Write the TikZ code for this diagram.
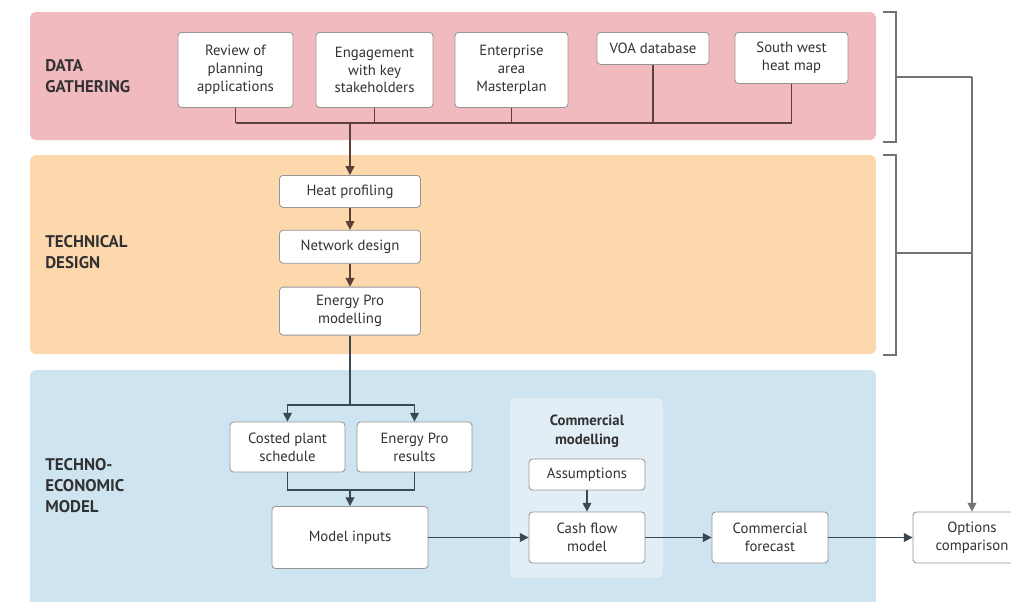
\documentclass[tikz,border=0pt]{standalone}
\usepackage{fontspec}
\setmainfont{PT Sans}
\usetikzlibrary{arrows.meta,positioning}

\definecolor{gatherpink}{RGB}{240,186,190}
\definecolor{designtan}{RGB}{252,216,172}
\definecolor{modelblue}{RGB}{206,228,240}
\definecolor{panelblue}{RGB}{226,238,246}
\definecolor{linebrown}{RGB}{92,64,56}
\definecolor{lineslate}{RGB}{58,72,84}
\definecolor{boxedge}{RGB}{150,150,150}
\definecolor{inktext}{RGB}{50,50,50}

\begin{document}
\begin{tikzpicture}[
    x=0.025cm, y=-0.025cm,
    band/.style={rounded corners=4pt},
    stepbox/.style={rectangle, draw=boxedge, fill=white, rounded corners=2.5pt, line width=0.6pt, align=center, text=inktext, inner sep=1pt, font=\fontsize{10.5}{12.6}\selectfont},
    stagelabel/.style={anchor=north west, align=left, inner sep=0pt, text=inktext, font=\bfseries\fontsize{12}{15}\selectfont},
    link/.style={line width=1pt},
    arrow/.style={-{Triangle[length=2.2mm, width=2.2mm]}, line width=1pt},
    bracket/.style={draw=black!55, line width=0.8pt}
]
\useasboundingbox (0,0) rectangle (1011,601);
\clip (0,0) rectangle (1011,601);

% stage bands
\fill[gatherpink, band] (30,12) rectangle (876,140);
\fill[designtan, band] (30,155) rectangle (876,354);
\fill[modelblue, band] (30,370) rectangle (876,640);
\fill[panelblue, band] (510,398) rectangle (663,578);

\node[stagelabel] (gatherlbl) at (45,59) {DATA\\GATHERING};
\node[stagelabel] (designlbl) at (45,235) {TECHNICAL\\DESIGN};
\node[stagelabel] (modellbl) at (45,458) {TECHNO-\\ECONOMIC\\MODEL};

% data gathering
\node[stepbox, anchor=north, minimum width=2.875cm, minimum height=1.875cm] (review) at (235.5,32) {Review of\\planning\\applications};
\node[stepbox, anchor=north, minimum width=2.925cm, minimum height=1.875cm] (engage) at (374.5,32) {Engagement\\with key\\stakeholders};
\node[stepbox, anchor=north, minimum width=2.825cm, minimum height=1.875cm] (enterprise) at (511.5,32) {Enterprise\\area\\Masterplan};
\node[stepbox, anchor=north, minimum width=2.8cm, minimum height=0.8cm] (voa) at (653,32) {VOA database};
\node[stepbox, anchor=north, minimum width=2.825cm, minimum height=1.275cm] (heatmap) at (791.5,32) {South west\\heat map};

\coordinate (bus) at (350,123);
\foreach \src in {review,engage,enterprise,voa,heatmap}
  \draw[link, linebrown] (\src.south) -- (\src.south |- bus);
\draw[link, linebrown] (review.south |- bus) -- (heatmap.south |- bus);

% technical design
\node[stepbox, anchor=north, minimum width=3.525cm, minimum height=0.8cm] (heat) at (350,175) {Heat profiling};
\node[stepbox, below=0.55cm of heat, minimum width=3.525cm, minimum height=0.825cm] (network) {Network design};
\node[stepbox, below=0.575cm of network, minimum width=3.525cm, minimum height=1.2cm] (energy) {Energy Pro\\modelling};

\draw[arrow, linebrown] (bus) -- (heat);
\draw[arrow, linebrown] (heat) -- (network);
\draw[arrow, linebrown] (network) -- (energy);

% techno-economic model
\node[stepbox, minimum width=2.875cm, minimum height=1.25cm] (costed) at (287.5,447) {Costed plant\\schedule};
\node[stepbox, minimum width=2.875cm, minimum height=1.25cm] (results) at (414.5,447) {Energy Pro\\results};
\node[stepbox, minimum width=3.9cm, minimum height=1.55cm] (inputs) at (350,537.5) {Model inputs};

\node[inner sep=0pt, align=center, text=inktext, font=\bfseries\fontsize{10.5}{13.5}\selectfont] (commtitle) at (587,431) {Commercial\\modelling};
\node[stepbox, minimum width=2.9cm, minimum height=0.775cm] (assume) at (587,474.5) {Assumptions};
\node[stepbox, minimum width=2.9cm, minimum height=1.275cm] (cashflow) at (587,537.5) {Cash flow\\model};
\node[stepbox, minimum width=2.9cm, minimum height=1.275cm] (forecast) at (770,537.5) {Commercial\\forecast};
\node[stepbox, minimum width=2.95cm, minimum height=1.275cm] (options) at (972,537.5) {Options\\comparison};

\coordinate (split) at (350,405);
\coordinate (join) at (350,490);
\draw[link, lineslate] (energy) -- (split);
\draw[arrow, lineslate] (split) -| (costed);
\draw[arrow, lineslate] (split) -| (results);
\draw[link, lineslate] (costed) |- (join) -| (results);
\draw[arrow, lineslate] (join) -- (inputs);
\draw[arrow, lineslate] (inputs) -- (cashflow);
\draw[arrow, lineslate] (assume) -- (cashflow);
\draw[arrow, lineslate] (cashflow) -- (forecast);
\draw[arrow, lineslate] (forecast) -- (options);

% brackets to options comparison
\draw[bracket] (883,12) -- (896,12) -- (896,142) -- (883,142);
\draw[bracket] (883,155) -- (896,155) -- (896,355) -- (883,355);
\coordinate (gatherbr) at (896,77);
\coordinate (designbr) at (896,253);
\coordinate (merge) at (972,77);
\draw[bracket] (gatherbr) -- (merge);
\draw[bracket] (designbr) -- (designbr -| merge);
\draw[arrow, draw=black!55, fill=black!70] (merge) -- (options);
\end{tikzpicture}
\end{document}
